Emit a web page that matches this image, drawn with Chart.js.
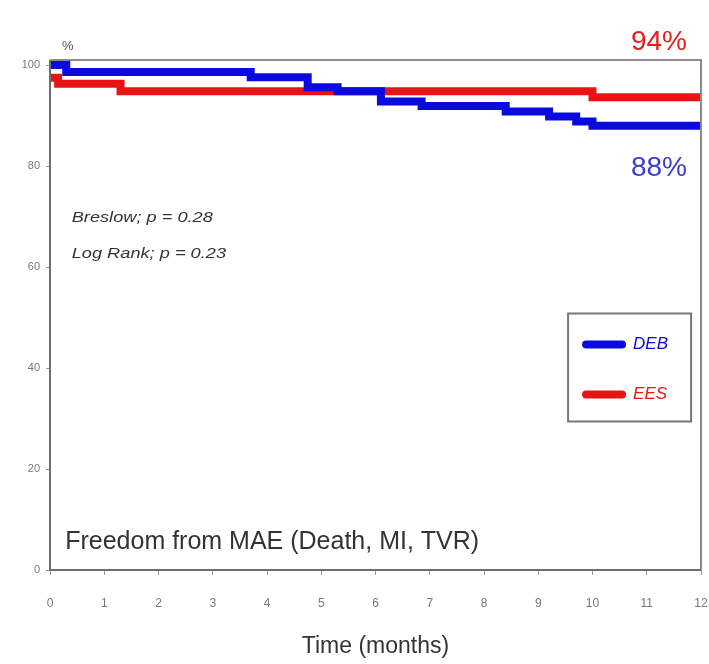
<!DOCTYPE html>
<html>
<head>
<meta charset="utf-8">
<script src="https://cdn.jsdelivr.net/npm/chart.js@4.4.1/dist/chart.umd.min.js"></script>
<style>
  html, body { margin: 0; padding: 0; background: #fff; }
  #wrap { width: 709px; height: 664px; }
</style>
</head>
<body>
<div id="wrap"><canvas id="kmChart" width="709" height="664"></canvas></div>
<script>
// months from index procedure
var debTimes = [0, 0.3, 3.7, 4.75, 5.3, 6.1, 6.85, 8.4, 9.2, 9.7, 10.0, 12];
var debValues = [100, 98.6, 97.6, 95.6, 94.8, 92.8, 91.9, 90.8, 89.8, 88.8, 88, 88];
var eesTimes = [0, 0.15, 1.3, 10.0, 12];
var eesValues = [97.5, 96.3, 94.8, 93.6, 93.6];

var yTicks = [0, 20, 40, 60, 80, 100];
var xTicks = [0, 1, 2, 3, 4, 5, 6, 7, 8, 9, 10, 11, 12];

var endLabels = ['94%', '88%'];
var statLines = ['Breslow; p = 0.28', 'Log Rank; p = 0.23'];
var boxTitle = 'Freedom from MAE (Death, MI, TVR)';

function toPoints(times, values) {
	var pts = [];
	for (var i = 0; i < times.length; i++) {
		pts.push({ x: times[i], y: values[i] });
	}
	return pts;
}

function createDataset(label, data, color) {
	return {
		label: label,
		data: data,
		borderColor: color,
		backgroundColor: color,
		borderWidth: 8,
		stepped: true,
		pointRadius: 0,
		fill: false
	};
}

var FONT = "'Liberation Sans', Arial, sans-serif";

// stretched text, the source figure uses a wide rendering
function wideText(ctx, text, x, y, sx) {
	ctx.save();
	ctx.translate(x, y);
	ctx.scale(sx, 1);
	ctx.fillText(text, 0, 0);
	ctx.restore();
}

// frame, annotations and the boxed legend
var extras = {
	id: 'extras',
	afterDatasetsDraw: function(chart) {
		var ctx = chart.ctx;
		var a = chart.chartArea;
		var x = chart.scales.x, y = chart.scales.y;

		ctx.save();
		ctx.strokeStyle = '#8c8c8c';
		ctx.lineWidth = 2;
		ctx.beginPath();
		ctx.moveTo(a.left, a.top);
		ctx.lineTo(a.right, a.top);
		ctx.lineTo(a.right, a.bottom);
		ctx.stroke();
		ctx.strokeStyle = '#6e6e6e';
		ctx.beginPath();
		ctx.moveTo(a.left, a.top);
		ctx.lineTo(a.left, a.bottom);
		ctx.lineTo(a.right, a.bottom);
		ctx.stroke();

		ctx.fillStyle = '#555';
		ctx.font = '13px ' + FONT;
		ctx.textAlign = 'left';
		ctx.textBaseline = 'middle';
		ctx.fillText('%', a.left + 12, a.top - 14);

		ctx.textAlign = 'right';
		ctx.font = '28px ' + FONT;
		ctx.fillStyle = '#e02020';
		ctx.fillText(endLabels[0], a.right - 14, a.top - 18);
		ctx.fillStyle = '#3b3bd0';
		ctx.fillText(endLabels[1], a.right - 14, y.getPixelForValue(80) + 2);

		ctx.textAlign = 'left';
		ctx.fillStyle = '#333';
		ctx.font = 'italic 14px ' + FONT;
		wideText(ctx, statLines[0], x.getPixelForValue(0.4), y.getPixelForValue(69.6), 1.3);
		wideText(ctx, statLines[1], x.getPixelForValue(0.4), y.getPixelForValue(62.6), 1.3);

		ctx.font = '25px ' + FONT;
		ctx.fillStyle = '#333';
		ctx.fillText(boxTitle, x.getPixelForValue(0.28), y.getPixelForValue(5.5));

		// legend box
		var bx = x.getPixelForValue(9.55), by = y.getPixelForValue(50.8);
		var bw = 123, bh = 108;
		ctx.strokeStyle = '#777';
		ctx.lineWidth = 2;
		ctx.strokeRect(bx, by, bw, bh);
		var sets = chart.data.datasets;
		for (var i = 0; i < sets.length; i++) {
			var ly = by + 31 + i * 50;
			ctx.strokeStyle = sets[i].borderColor;
			ctx.lineWidth = 8;
			ctx.lineCap = 'round';
			ctx.beginPath();
			ctx.moveTo(bx + 18, ly);
			ctx.lineTo(bx + 54, ly);
			ctx.stroke();
			ctx.fillStyle = sets[i].borderColor;
			ctx.font = 'italic 17px ' + FONT;
			ctx.fillText(sets[i].label, bx + 65, ly);
		}
		ctx.restore();
	}
};

var ctx = document.getElementById('kmChart').getContext('2d');
var kmChart = new Chart(ctx, {
	type: 'line',
	data: {
		datasets: [
			createDataset('DEB', toPoints(debTimes, debValues), '#0a0adf'),
			createDataset('EES', toPoints(eesTimes, eesValues), '#e81414')
		]
	},
	options: {
		responsive: false,
		animation: false,
		layout: { padding: { top: 60, right: 8, left: 0, bottom: 0 } },
		plugins: {
			legend: { display: false },
			tooltip: { enabled: false }
		},
		scales: {
			x: {
				type: 'linear',
				min: 0,
				max: 12,
				afterBuildTicks: function(scale) {
					scale.ticks = xTicks.map(function(v) { return { value: v }; });
				},
				afterFit: function(scale) {
					scale.height = 94;
					scale.paddingLeft = 0;
					scale.paddingRight = 0;
				},
				grid: { drawOnChartArea: false, tickLength: 5, color: '#999' },
				border: { display: false },
				ticks: { color: '#777', font: { family: FONT, size: 12 }, padding: 21 },
				title: { display: true, text: 'Time (months)', color: '#333', font: { family: FONT, size: 23 }, padding: { top: 8 } }
			},
			y: {
				min: 0,
				max: 101,
				afterBuildTicks: function(scale) {
					scale.ticks = yTicks.map(function(v) { return { value: v }; });
				},
				afterFit: function(scale) { scale.width = 50; },
				grid: { drawOnChartArea: false, tickLength: 4, color: '#999' },
				border: { display: false },
				ticks: { color: '#777', font: { family: FONT, size: 11 }, padding: 6 }
			}
		}
	},
	plugins: [extras]
});
</script>
</body>
</html>
